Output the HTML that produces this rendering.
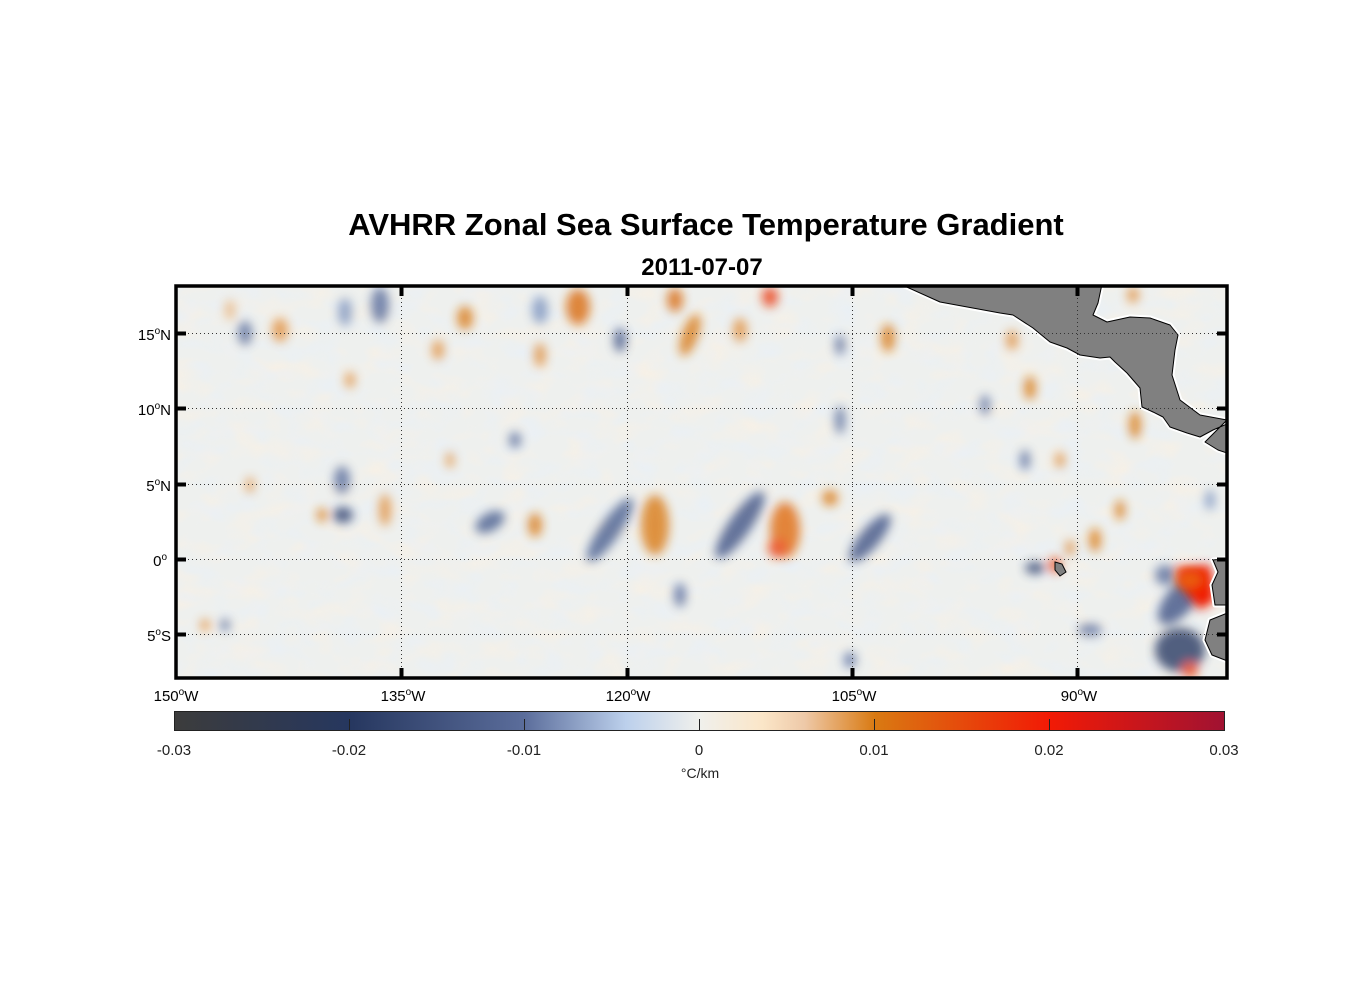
<!DOCTYPE html>
<html><head><meta charset="utf-8"><style>
body{margin:0;background:#fff;width:1356px;height:1000px;overflow:hidden;font-family:"Liberation Sans",Arial,sans-serif;}
</style></head><body>
<svg width="1356" height="1000" viewBox="0 0 1356 1000" xmlns="http://www.w3.org/2000/svg" font-family="Liberation Sans, Arial, sans-serif">
<defs>
<filter id="b" x="-50%" y="-50%" width="200%" height="200%"><feGaussianBlur stdDeviation="5"/></filter>
<filter id="b2" x="-50%" y="-50%" width="200%" height="200%"><feGaussianBlur stdDeviation="7"/></filter>
<filter id="tx" x="0" y="0" width="100%" height="100%">
<feTurbulence type="fractalNoise" baseFrequency="0.03 0.05" numOctaves="2" seed="4" result="n"/>
<feColorMatrix in="n" type="matrix" values="0 0 0 0 0.98  0 0 0 0 0.88  0 0 0 0 0.75  1.6 0 0 0 -0.75" result="o"/>
<feTurbulence type="fractalNoise" baseFrequency="0.035 0.05" numOctaves="2" seed="11" result="n2"/>
<feColorMatrix in="n2" type="matrix" values="0 0 0 0 0.80  0 0 0 0 0.87  0 0 0 0 0.96  1.6 0 0 0 -0.75" result="bl"/>
<feMerge><feMergeNode in="o"/><feMergeNode in="bl"/></feMerge>
</filter>
<clipPath id="c"><rect x="176" y="286" width="1051" height="392"/></clipPath>
<linearGradient id="cb" x1="0" x2="1" y1="0" y2="0">
<stop offset="0" stop-color="#3c3c3c"/>
<stop offset="0.167" stop-color="#26375f"/>
<stop offset="0.333" stop-color="#5b6d9b"/>
<stop offset="0.43" stop-color="#bcd0ec"/>
<stop offset="0.5" stop-color="#f0f0ec"/>
<stop offset="0.56" stop-color="#fbe6c8"/>
<stop offset="0.6" stop-color="#eec9a8"/>
<stop offset="0.667" stop-color="#d97a12"/>
<stop offset="0.833" stop-color="#f21a05"/>
<stop offset="1" stop-color="#a01232"/>
</linearGradient>
</defs>
<text x="706" y="235" text-anchor="middle" font-size="31" font-weight="bold">AVHRR Zonal Sea Surface Temperature Gradient</text>
<text x="702" y="275" text-anchor="middle" font-size="24" font-weight="bold">2011-07-07</text>
<g clip-path="url(#c)">
<rect x="176" y="286" width="1051" height="392" fill="#eef0ee"/>
<rect x="176" y="286" width="1051" height="392" filter="url(#tx)" opacity="0.8"/>
<g filter="url(#b)" opacity="0.8">
<ellipse cx="245" cy="333" rx="7" ry="12" fill="#5a6d9c"/>
<ellipse cx="380" cy="305" rx="9" ry="18" fill="#5a6d9c"/>
<ellipse cx="345" cy="312" rx="7" ry="14" fill="#7f95c0"/>
<ellipse cx="342" cy="480" rx="8" ry="14" fill="#5a6d9c"/>
<ellipse cx="343" cy="515" rx="10" ry="8" fill="#2f4170"/>
<ellipse cx="490" cy="522" rx="16" ry="9" fill="#4a5e90" transform="rotate(-30 490 522)"/>
<ellipse cx="515" cy="440" rx="6" ry="8" fill="#5a6d9c"/>
<ellipse cx="610" cy="530" rx="38" ry="10" fill="#4a5e90" transform="rotate(-55 610 530)"/>
<ellipse cx="620" cy="340" rx="6" ry="12" fill="#3f5285"/>
<ellipse cx="540" cy="310" rx="8" ry="14" fill="#7f95c0"/>
<ellipse cx="740" cy="525" rx="40" ry="11" fill="#3f5285" transform="rotate(-55 740 525)"/>
<ellipse cx="870" cy="538" rx="30" ry="10" fill="#3f5285" transform="rotate(-50 870 538)"/>
<ellipse cx="840" cy="420" rx="5" ry="14" fill="#5a6d9c"/>
<ellipse cx="840" cy="345" rx="5" ry="10" fill="#5a6d9c"/>
<ellipse cx="985" cy="405" rx="5" ry="10" fill="#5a6d9c"/>
<ellipse cx="680" cy="595" rx="6" ry="12" fill="#5a6d9c"/>
<ellipse cx="850" cy="660" rx="6" ry="8" fill="#5a6d9c"/>
<ellipse cx="1035" cy="568" rx="10" ry="6" fill="#2f4170"/>
<ellipse cx="1025" cy="460" rx="5" ry="10" fill="#5a6d9c"/>
<ellipse cx="1180" cy="600" rx="30" ry="14" fill="#3f5285" transform="rotate(-50 1180 600)"/>
<ellipse cx="1180" cy="650" rx="25" ry="22" fill="#2a3a64"/>
<ellipse cx="1165" cy="575" rx="10" ry="10" fill="#5a6d9c"/>
<ellipse cx="1090" cy="630" rx="12" ry="6" fill="#5a6d9c"/>
<ellipse cx="1210" cy="500" rx="5" ry="10" fill="#7f95c0"/>
<ellipse cx="225" cy="625" rx="5" ry="6" fill="#5a6d9c"/>
<ellipse cx="280" cy="330" rx="8" ry="12" fill="#e09040"/>
<ellipse cx="230" cy="310" rx="5" ry="10" fill="#eab37a"/>
<ellipse cx="465" cy="318" rx="8" ry="12" fill="#d97a12"/>
<ellipse cx="438" cy="350" rx="6" ry="10" fill="#e09040"/>
<ellipse cx="350" cy="380" rx="5" ry="8" fill="#e09040"/>
<ellipse cx="578" cy="307" rx="12" ry="18" fill="#d96a0a"/>
<ellipse cx="540" cy="355" rx="6" ry="12" fill="#e09040"/>
<ellipse cx="675" cy="300" rx="8" ry="12" fill="#d96a0a"/>
<ellipse cx="690" cy="335" rx="8" ry="22" fill="#d97a12" transform="rotate(20 690 335)"/>
<ellipse cx="740" cy="330" rx="7" ry="12" fill="#e09040"/>
<ellipse cx="770" cy="297" rx="8" ry="10" fill="#ea3a10"/>
<ellipse cx="888" cy="338" rx="7" ry="14" fill="#d97a12"/>
<ellipse cx="385" cy="510" rx="6" ry="16" fill="#e09040"/>
<ellipse cx="322" cy="515" rx="5" ry="7" fill="#d97a12"/>
<ellipse cx="250" cy="485" rx="4" ry="8" fill="#e09040"/>
<ellipse cx="535" cy="525" rx="7" ry="12" fill="#d97a12"/>
<ellipse cx="655" cy="525" rx="14" ry="30" fill="#d97a12"/>
<ellipse cx="785" cy="530" rx="15" ry="28" fill="#e06a10"/>
<ellipse cx="778" cy="548" rx="10" ry="10" fill="#e84010"/>
<ellipse cx="830" cy="498" rx="8" ry="8" fill="#d97a12"/>
<ellipse cx="450" cy="460" rx="4" ry="8" fill="#e09040"/>
<ellipse cx="1030" cy="388" rx="6" ry="12" fill="#d97a12"/>
<ellipse cx="1135" cy="425" rx="6" ry="14" fill="#d97a12"/>
<ellipse cx="1095" cy="540" rx="6" ry="12" fill="#d97a12"/>
<ellipse cx="1120" cy="510" rx="5" ry="10" fill="#d97a12"/>
<ellipse cx="1070" cy="548" rx="5" ry="8" fill="#e09040"/>
<ellipse cx="1055" cy="565" rx="6" ry="8" fill="#e84010"/>
<ellipse cx="1012" cy="340" rx="6" ry="10" fill="#e09040"/>
<ellipse cx="1060" cy="460" rx="5" ry="8" fill="#e09040"/>
<ellipse cx="1133" cy="295" rx="6" ry="8" fill="#e09040"/>
<ellipse cx="1190" cy="670" rx="8" ry="8" fill="#e84010"/>
<ellipse cx="205" cy="625" rx="5" ry="6" fill="#e09040"/>
</g>
<polygon points="1175,568 1210,565 1215,600 1200,610 1188,595" fill="#f01a05" filter="url(#b)"/>
<ellipse cx="1190" cy="580" rx="14" ry="10" fill="#ea5a10" filter="url(#b)"/>
<g fill="#808080" stroke="#fff" stroke-width="5" stroke-linejoin="round">
<polygon points="900,284 940,302 1000,313 1013,315 1033,328 1050,342 1067,348 1080,355 1100,358 1110,357 1115,362 1127,373 1140,388 1142,407 1153,412 1163,417 1170,427 1187,433 1200,437 1213,430 1227,424 1230,424 1230,454 1218,450 1205,442 1227,420 1200,415 1180,400 1172,375 1175,350 1178,335 1170,325 1150,318 1130,317 1107,322 1093,315 1098,303 1102,284"/>
<polygon points="1213,560 1230,558 1230,605 1215,605 1212,585 1218,572"/>
<polygon points="1230,612 1210,620 1205,640 1212,655 1230,662"/>
</g>
<g fill="#808080" stroke="#000" stroke-width="1" stroke-linejoin="round">
<polygon points="900,284 940,302 1000,313 1013,315 1033,328 1050,342 1067,348 1080,355 1100,358 1110,357 1115,362 1127,373 1140,388 1142,407 1153,412 1163,417 1170,427 1187,433 1200,437 1213,430 1227,424 1230,424 1230,454 1218,450 1205,442 1227,420 1200,415 1180,400 1172,375 1175,350 1178,335 1170,325 1150,318 1130,317 1107,322 1093,315 1098,303 1102,284"/>
<polygon points="1213,560 1230,558 1230,605 1215,605 1212,585 1218,572"/>
<polygon points="1230,612 1210,620 1205,640 1212,655 1230,662"/>
</g>
<polygon points="1055,562 1062,564 1066,572 1060,576 1055,570" fill="#808080" stroke="#000" stroke-width="1"/>
<g stroke="#333" stroke-width="1" stroke-dasharray="1,3">
<line x1="401.5" y1="286" x2="401.5" y2="678"/><line x1="627.5" y1="286" x2="627.5" y2="678"/>
<line x1="852.5" y1="286" x2="852.5" y2="678"/><line x1="1077.5" y1="286" x2="1077.5" y2="678"/>
<line x1="176" y1="333.5" x2="1227" y2="333.5"/><line x1="176" y1="408.5" x2="1227" y2="408.5"/>
<line x1="176" y1="484.5" x2="1227" y2="484.5"/><line x1="176" y1="559.5" x2="1227" y2="559.5"/>
<line x1="176" y1="634.5" x2="1227" y2="634.5"/>
</g>
</g>
<rect x="176" y="286" width="1051" height="392" fill="none" stroke="#000" stroke-width="3.5"/>
<g stroke="#000" stroke-width="4">
<line x1="401.5" y1="286" x2="401.5" y2="296"/><line x1="627.5" y1="286" x2="627.5" y2="296"/><line x1="852.5" y1="286" x2="852.5" y2="296"/><line x1="1077.5" y1="286" x2="1077.5" y2="296"/>
<line x1="401.5" y1="668" x2="401.5" y2="678"/><line x1="627.5" y1="668" x2="627.5" y2="678"/><line x1="852.5" y1="668" x2="852.5" y2="678"/><line x1="1077.5" y1="668" x2="1077.5" y2="678"/>
<line x1="176" y1="333.5" x2="186" y2="333.5"/><line x1="176" y1="408.5" x2="186" y2="408.5"/><line x1="176" y1="484.5" x2="186" y2="484.5"/><line x1="176" y1="559.5" x2="186" y2="559.5"/><line x1="176" y1="634.5" x2="186" y2="634.5"/>
<line x1="1217" y1="333.5" x2="1227" y2="333.5"/><line x1="1217" y1="408.5" x2="1227" y2="408.5"/><line x1="1217" y1="484.5" x2="1227" y2="484.5"/><line x1="1217" y1="559.5" x2="1227" y2="559.5"/><line x1="1217" y1="634.5" x2="1227" y2="634.5"/>
</g>
<g font-size="15" fill="#000">
<text x="171" y="340" text-anchor="end">15<tspan dy="-6" font-size="10">o</tspan><tspan dy="6">N</tspan></text>
<text x="171" y="415" text-anchor="end">10<tspan dy="-6" font-size="10">o</tspan><tspan dy="6">N</tspan></text>
<text x="171" y="491" text-anchor="end">5<tspan dy="-6" font-size="10">o</tspan><tspan dy="6">N</tspan></text>
<text x="167" y="566" text-anchor="end">0<tspan dy="-6" font-size="10">o</tspan></text>
<text x="171" y="641" text-anchor="end">5<tspan dy="-6" font-size="10">o</tspan><tspan dy="6">S</tspan></text>
<text x="176" y="701" text-anchor="middle">150<tspan dy="-6" font-size="10">o</tspan><tspan dy="6">W</tspan></text>
<text x="403" y="701" text-anchor="middle">135<tspan dy="-6" font-size="10">o</tspan><tspan dy="6">W</tspan></text>
<text x="628" y="701" text-anchor="middle">120<tspan dy="-6" font-size="10">o</tspan><tspan dy="6">W</tspan></text>
<text x="854" y="701" text-anchor="middle">105<tspan dy="-6" font-size="10">o</tspan><tspan dy="6">W</tspan></text>
<text x="1079" y="701" text-anchor="middle">90<tspan dy="-6" font-size="10">o</tspan><tspan dy="6">W</tspan></text>
</g>
<rect x="174.5" y="711.5" width="1050" height="19" fill="url(#cb)" stroke="#222" stroke-width="1"/>
<g stroke="#222" stroke-width="1">
<line x1="349.5" y1="719" x2="349.5" y2="731"/><line x1="524.5" y1="719" x2="524.5" y2="731"/><line x1="699.5" y1="719" x2="699.5" y2="731"/><line x1="874.5" y1="719" x2="874.5" y2="731"/><line x1="1049.5" y1="719" x2="1049.5" y2="731"/>
</g>
<g font-size="15" fill="#222" text-anchor="middle">
<text x="174" y="755">-0.03</text><text x="349" y="755">-0.02</text><text x="524" y="755">-0.01</text><text x="699" y="755">0</text>
<text x="874" y="755">0.01</text><text x="1049" y="755">0.02</text><text x="1224" y="755">0.03</text>
<text x="700" y="778" font-size="14">°C/km</text>
</g>
</svg>
</body></html>
